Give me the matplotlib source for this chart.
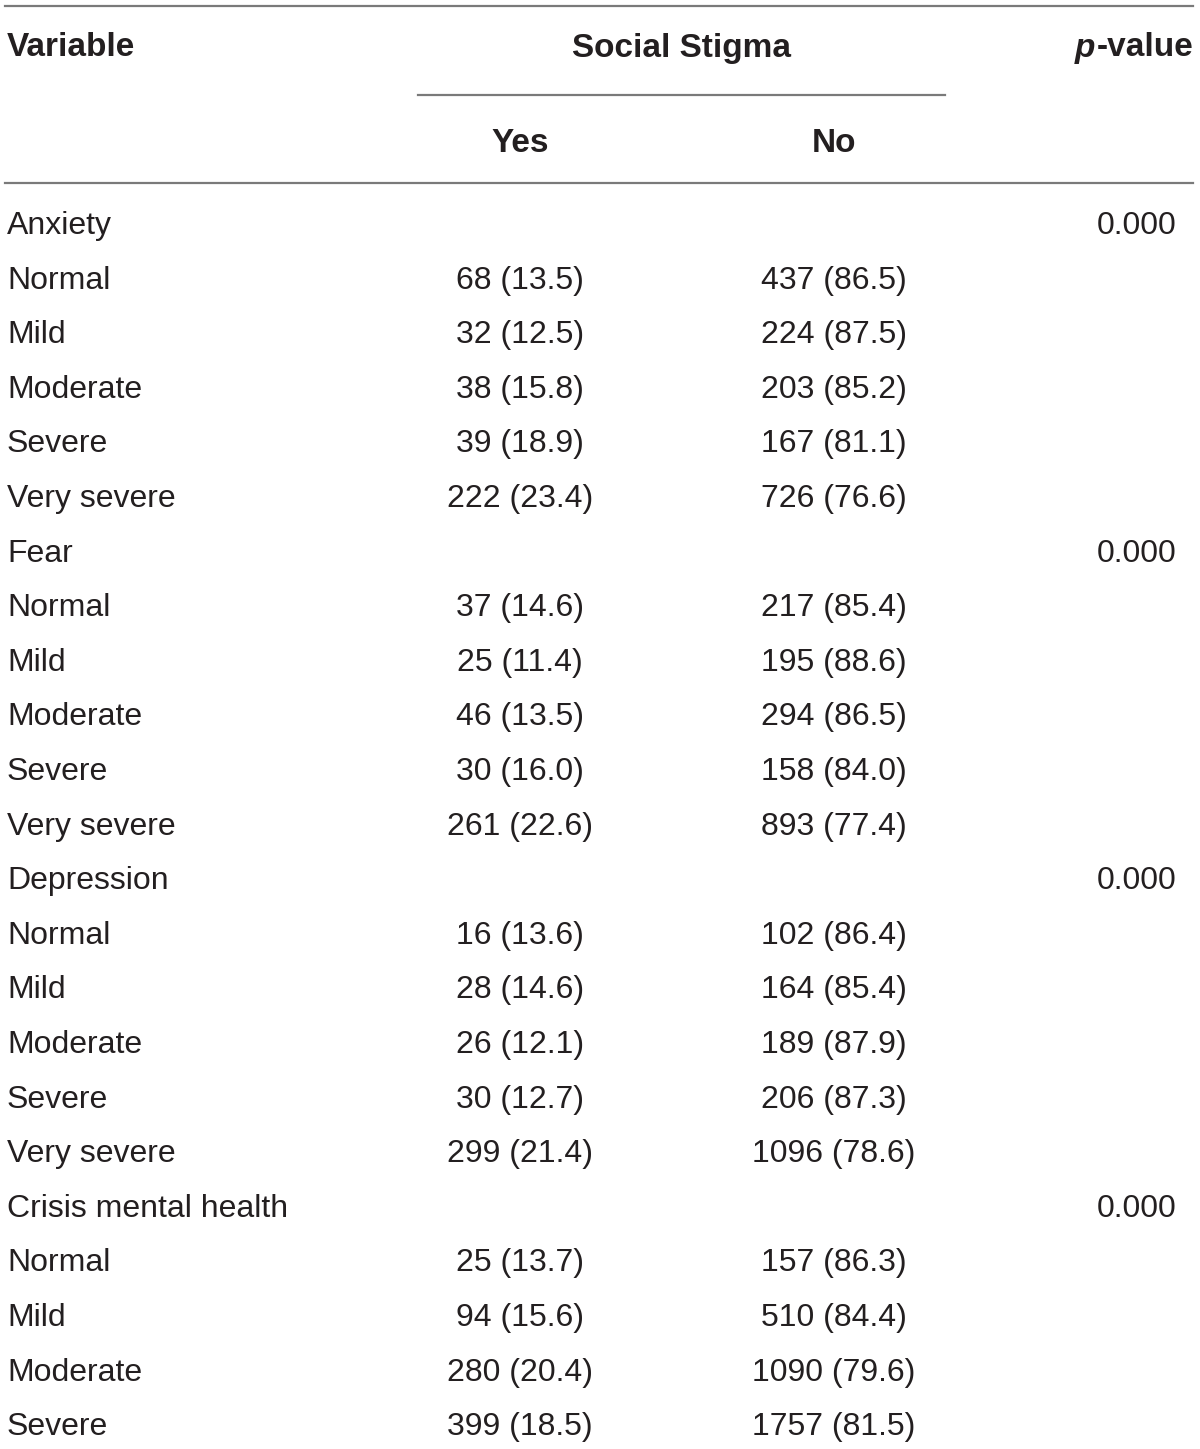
import matplotlib.pyplot as plt

# table content
groups = ["Anxiety", "Fear", "Depression", "Crisis mental health"]
levels = [
    ["Normal", "Mild", "Moderate", "Severe", "Very severe"],
    ["Normal", "Mild", "Moderate", "Severe", "Very severe"],
    ["Normal", "Mild", "Moderate", "Severe", "Very severe"],
    ["Normal", "Mild", "Moderate", "Severe"],
]
yes_n = [
    [68, 32, 38, 39, 222],
    [37, 25, 46, 30, 261],
    [16, 28, 26, 30, 299],
    [25, 94, 280, 399],
]
yes_pct = [
    [13.5, 12.5, 15.8, 18.9, 23.4],
    [14.6, 11.4, 13.5, 16.0, 22.6],
    [13.6, 14.6, 12.1, 12.7, 21.4],
    [13.7, 15.6, 20.4, 18.5],
]
no_n = [
    [437, 224, 203, 167, 726],
    [217, 195, 294, 158, 893],
    [102, 164, 189, 206, 1096],
    [157, 510, 1090, 1757],
]
no_pct = [
    [86.5, 87.5, 85.2, 81.1, 76.6],
    [85.4, 88.6, 86.5, 84.0, 77.4],
    [86.4, 85.4, 87.9, 87.3, 78.6],
    [86.3, 84.4, 79.6, 81.5],
]
p_values = ["0.000", "0.000", "0.000", "0.000"]

W, H = 1200, 1449
fig = plt.figure(figsize=(W / 100, H / 100), dpi=100)
ax = fig.add_axes([0, 0, 1, 1])
ax.set_xlim(0, W)
ax.set_ylim(H, 0)
ax.axis("off")

font = ["Liberation Sans", "DejaVu Sans"]
txt = "#231f20"
line_c = "#7a7a7a"
fs = 23        # body
fs_h = 24      # header

x_var, x_yes, x_no, x_p = 7, 520, 834, 1176

# header
ax.text(x_var, 48, "Variable", ha="left", va="center", fontsize=fs_h,
        fontweight="bold", family=font, color=txt)
ax.text(682, 48, "Social Stigma", ha="center", va="center", fontsize=fs_h,
        fontweight="bold", family=font, color=txt)
val = ax.text(1193, 48, "-value", ha="right", va="center", fontsize=fs_h,
              fontweight="bold", family=font, color=txt)
fig.canvas.draw()
bb = val.get_window_extent().transformed(ax.transData.inverted())
ax.text(min(bb.x0, bb.x1) - 1, 48, "p", ha="right", va="center", fontsize=fs_h,
        fontweight="bold", fontstyle="italic", family=font, color=txt)
ax.text(x_yes, 143, "Yes", ha="center", va="center", fontsize=fs_h,
        fontweight="bold", family=font, color=txt)
ax.text(x_no, 143, "No", ha="center", va="center", fontsize=fs_h,
        fontweight="bold", family=font, color=txt)

ax.plot([5, 1193], [6, 6], color=line_c, lw=1.6)
ax.plot([418, 945], [95, 95], color=line_c, lw=1.6)
ax.plot([5, 1193], [183, 183], color=line_c, lw=1.6)

# body rows
y = 226
pitch = 54.6
for g in range(len(groups)):
    ax.text(x_var, y, groups[g], ha="left", va="center", fontsize=fs,
            family=font, color=txt)
    ax.text(x_p, y, p_values[g], ha="right", va="center", fontsize=fs,
            family=font, color=txt)
    y += pitch
    for i, lev in enumerate(levels[g]):
        ax.text(x_var, y, lev, ha="left", va="center", fontsize=fs,
                family=font, color=txt)
        ax.text(x_yes, y, "{} ({:.1f})".format(yes_n[g][i], yes_pct[g][i]),
                ha="center", va="center", fontsize=fs, family=font, color=txt)
        ax.text(x_no, y, "{} ({:.1f})".format(no_n[g][i], no_pct[g][i]),
                ha="center", va="center", fontsize=fs, family=font, color=txt)
        y += pitch

fig.savefig("out.png", dpi=100)
